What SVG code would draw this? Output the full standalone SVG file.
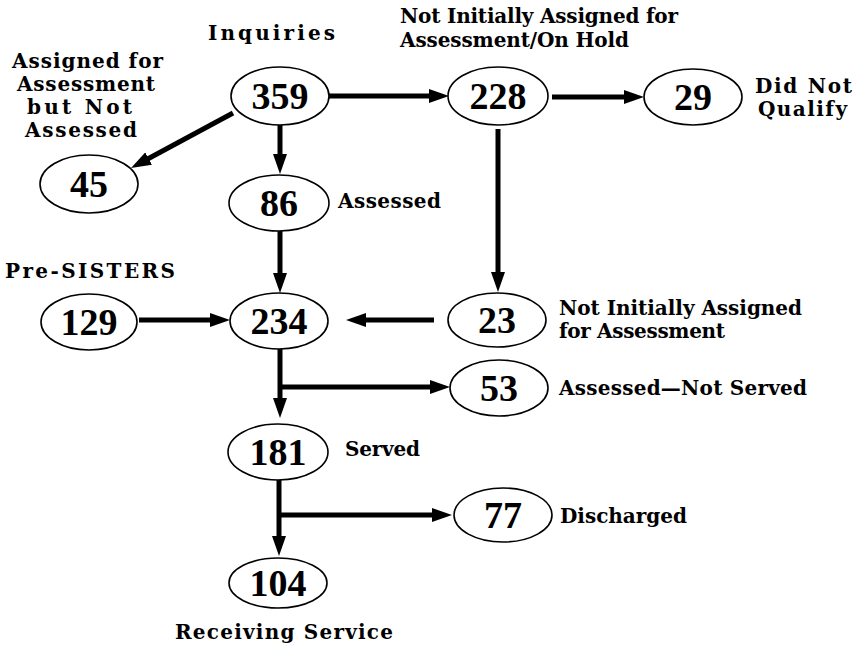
<svg xmlns="http://www.w3.org/2000/svg" width="865" height="651" viewBox="0 0 865 651">
<style>
.node ellipse{fill:#fff;stroke:#000;stroke-width:1.6}
.num{font-family:"Liberation Serif","Times New Roman",serif;font-weight:bold;font-size:38px;text-anchor:middle;fill:#000}
.lbl{font-family:"DejaVu Serif","Liberation Serif",serif;font-weight:bold;font-size:20px;fill:#000}
.conn path{fill:none;stroke:#000;stroke-width:5}
</style>
<defs>
<marker id="ah" viewBox="0 0 20 14" refX="8" refY="7" markerWidth="20" markerHeight="14" markerUnits="userSpaceOnUse" orient="auto">
<path d="M0,0 L20,7 L0,14 Z" fill="#000"/>
</marker>
</defs>
<rect width="865" height="651" fill="#fff"/>
<g id="connectors" class="conn">
<path d="M329,96 H437" marker-end="url(#ah)"/>
<path d="M552,97 H632" marker-end="url(#ah)"/>
<path d="M280,125 V162" marker-end="url(#ah)"/>
<path d="M233,113 L141.6,162.3" marker-end="url(#ah)"/>
<path d="M280,231 V281" marker-end="url(#ah)"/>
<path d="M498,129 V280" marker-end="url(#ah)"/>
<path d="M139,320 H218" marker-end="url(#ah)"/>
<path d="M434,320 H358" marker-end="url(#ah)"/>
<path d="M280,349 V406" marker-end="url(#ah)"/>
<path d="M280,387 H438" marker-end="url(#ah)"/>
<path d="M279,480 V544" marker-end="url(#ah)"/>
<path d="M279,515 H440" marker-end="url(#ah)"/>
</g>
<g id="n359" class="node"><ellipse cx="280" cy="96" rx="49" ry="29"/><text class="num" x="280" y="109">359</text></g>
<g id="n228" class="node"><ellipse cx="498" cy="96" rx="50" ry="29"/><text class="num" x="498" y="109">228</text></g>
<g id="n29" class="node"><ellipse cx="693" cy="97" rx="49" ry="28"/><text class="num" x="693" y="110">29</text></g>
<g id="n45" class="node"><ellipse cx="89" cy="184" rx="49" ry="29"/><text class="num" x="89" y="197">45</text></g>
<g id="n86" class="node"><ellipse cx="279" cy="203" rx="50" ry="28"/><text class="num" x="279" y="216">86</text></g>
<g id="n129" class="node"><ellipse cx="89" cy="322" rx="48" ry="28"/><text class="num" x="89" y="335">129</text></g>
<g id="n234" class="node"><ellipse cx="279" cy="321" rx="49" ry="28"/><text class="num" x="279" y="334">234</text></g>
<g id="n23" class="node"><ellipse cx="497" cy="320" rx="49" ry="27"/><text class="num" x="497" y="333">23</text></g>
<g id="n53" class="node"><ellipse cx="499" cy="388" rx="49" ry="28"/><text class="num" x="499" y="401">53</text></g>
<g id="n181" class="node"><ellipse cx="278" cy="452" rx="50" ry="28"/><text class="num" x="278" y="465">181</text></g>
<g id="n77" class="node"><ellipse cx="503" cy="515" rx="49" ry="27"/><text class="num" x="503" y="528">77</text></g>
<g id="n104" class="node"><ellipse cx="278" cy="583" rx="49" ry="25"/><text class="num" x="278" y="596">104</text></g>
<g id="labels">
<text class="lbl" x="208" y="40" textLength="127" lengthAdjust="spacing">Inquiries</text>
<text class="lbl" x="12" y="68" textLength="151" lengthAdjust="spacing">Assigned for</text>
<text class="lbl" x="17" y="91" textLength="138" lengthAdjust="spacing">Assessment</text>
<text class="lbl" x="27" y="114" textLength="105" lengthAdjust="spacing">but Not</text>
<text class="lbl" x="25" y="137" textLength="112" lengthAdjust="spacing">Assessed</text>
<text class="lbl" x="400" y="23" textLength="278" lengthAdjust="spacing">Not Initially Assigned for</text>
<text class="lbl" x="400" y="47" textLength="229" lengthAdjust="spacing">Assessment/On Hold</text>
<text class="lbl" x="755" y="93" textLength="97" lengthAdjust="spacing">Did Not</text>
<text class="lbl" x="758" y="116" textLength="89" lengthAdjust="spacing">Qualify</text>
<text class="lbl" x="338" y="208" textLength="103" lengthAdjust="spacing">Assessed</text>
<text class="lbl" x="5" y="278" textLength="170" lengthAdjust="spacing">Pre-SISTERS</text>
<text class="lbl" x="559" y="315" textLength="243" lengthAdjust="spacing">Not Initially Assigned</text>
<text class="lbl" x="559" y="338" textLength="166" lengthAdjust="spacing">for Assessment</text>
<text class="lbl" x="559" y="395" textLength="248" lengthAdjust="spacing">Assessed—Not Served</text>
<text class="lbl" x="345" y="456" textLength="75" lengthAdjust="spacing">Served</text>
<text class="lbl" x="560" y="523" textLength="127" lengthAdjust="spacing">Discharged</text>
<text class="lbl" x="175" y="639" textLength="218" lengthAdjust="spacing">Receiving Service</text>
</g>
</svg>
